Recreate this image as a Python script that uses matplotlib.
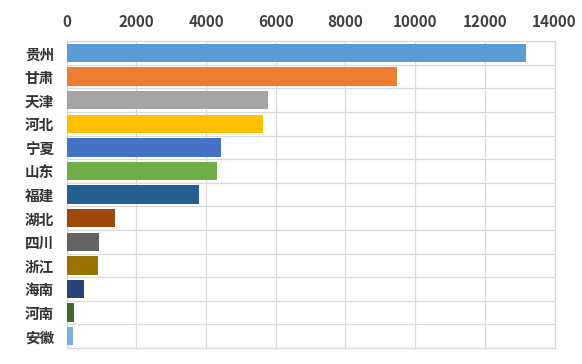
import numpy as np
import matplotlib.pyplot as plt

plt.rcParams['font.family'] = ['Noto Sans CJK SC', 'DejaVu Sans']

# Provinces and values, top to bottom
provinces = ['贵州', '甘肃', '天津', '河北', '宁夏', '山东', '福建',
             '湖北', '四川', '浙江', '海南', '河南', '安徽']
values = [13170, 9490, 5790, 5645, 4430, 4310, 3810,
          1390, 940, 895, 500, 215, 195]
colors = ['#5B9BD5', '#ED7D31', '#A5A5A5', '#FFC000', '#4472C4', '#70AD47',
          '#255E91', '#9E480E', '#636363', '#997300', '#264478', '#43682B',
          '#7CAFDD']
xticks = [0, 2000, 4000, 6000, 8000, 10000, 12000, 14000]

fig = plt.figure(figsize=(5.82, 3.64), dpi=100)
ax = fig.add_axes([0.1143, 0.044, 0.8385, 0.843])

y = np.arange(len(provinces))
ax.barh(y, values, height=0.78, color=colors, zorder=3)

ax.set_xlim(0, 14000)
ax.set_ylim(len(provinces) - 0.5, -0.5)
ax.set_xticks(xticks)
ax.set_xticklabels([str(t) for t in xticks])
ax.xaxis.tick_top()
ax.set_yticks(y)
ax.set_yticklabels(provinces)

# grid of cells: vertical lines at ticks, horizontal lines between rows
ax.set_yticks(np.arange(-0.5, len(provinces), 1), minor=True)
ax.grid(axis='x', which='major', color='#D9D9D9', lw=0.9, zorder=0)
ax.grid(axis='y', which='minor', color='#D9D9D9', lw=0.9, zorder=0)
ax.tick_params(which='both', length=0)
ax.tick_params(axis='x', pad=8, labelsize=11, labelcolor='#404040')
ax.tick_params(axis='y', pad=9, labelsize=10.5, labelcolor='#333333')
for lab in ax.get_xticklabels() + ax.get_yticklabels():
    lab.set_fontweight('bold')
for s in ax.spines.values():
    s.set_color('#D9D9D9')
    s.set_linewidth(0.9)

fig.savefig('out.png', dpi=100, facecolor='white')
